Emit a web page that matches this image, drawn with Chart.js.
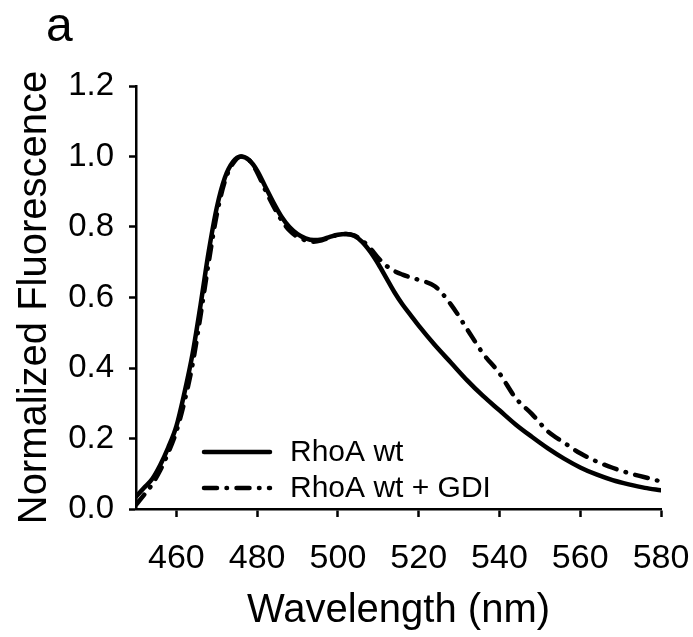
<!DOCTYPE html>
<html>
<head>
<meta charset="utf-8">
<script src="https://cdn.jsdelivr.net/npm/chart.js@4.4.0/dist/chart.umd.min.js"></script>
<style>
  body { margin: 0; background: #fff; }
  #wrap { width: 693px; height: 637px; }
</style>
</head>
<body>
<div id="wrap"><canvas id="spectrum"></canvas></div>
<script>
var wavelength = [450, 452, 454, 456, 458, 460, 462, 464, 466, 468, 470, 472, 474, 476, 478, 480,
  482, 484, 486, 488, 490, 492, 494, 496, 498, 500, 502, 504, 506, 508, 510, 512, 514, 516, 518,
  520, 524, 528, 532, 536, 540, 544, 548, 552, 556, 560, 564, 568, 572, 576, 580];

var rhoaWt = [0.035, 0.06, 0.085, 0.125, 0.175, 0.235, 0.33, 0.44, 0.58, 0.73, 0.855, 0.94, 0.985,
  1.0, 0.99, 0.96, 0.915, 0.87, 0.83, 0.80, 0.78, 0.768, 0.763, 0.765, 0.772, 0.778, 0.78, 0.775,
  0.758, 0.73, 0.695, 0.655, 0.615, 0.58, 0.55, 0.52, 0.465, 0.415, 0.365, 0.32, 0.28, 0.24, 0.205,
  0.172, 0.143, 0.118, 0.098, 0.082, 0.07, 0.06, 0.053];

var rhoaWtGdi = [0.012, 0.04, 0.07, 0.11, 0.16, 0.22, 0.305, 0.41, 0.55, 0.70, 0.835, 0.93, 0.98,
  1.0, 0.99, 0.955, 0.905, 0.86, 0.82, 0.79, 0.772, 0.762, 0.758, 0.762, 0.77, 0.778, 0.78, 0.776,
  0.762, 0.74, 0.712, 0.69, 0.675, 0.665, 0.657, 0.65, 0.632, 0.58, 0.51, 0.44, 0.385, 0.315, 0.27,
  0.22, 0.188, 0.158, 0.135, 0.117, 0.102, 0.09, 0.078];

var xTicks = [460, 480, 500, 520, 540, 560, 580];
var yTicks = [0.0, 0.2, 0.4, 0.6, 0.8, 1.0, 1.2];

var seriesNames = ['RhoA wt', 'RhoA wt + GDI'];

var FONT = '"Liberation Sans", Arial, sans-serif';
var dashDot = [13, 9.5, 0.5, 9.5];

function points(ys) {
  var out = [];
  for (var i = 0; i < wavelength.length; i++) {
    out.push({ x: wavelength[i], y: ys[i] });
  }
  return out;
}

// panel letter + legend inside the plot
var extras = {
  id: 'extras',
  afterDraw: function(chart) {
    var ctx = chart.ctx;
    ctx.save();
    ctx.fillStyle = '#000';
    ctx.font = '48px ' + FONT;
    ctx.textBaseline = 'alphabetic';
    ctx.textAlign = 'left';
    ctx.fillText('a', 46, 41);

    var rows = [452, 488];
    chart.data.datasets.forEach(function(ds, i) {
      var y = rows[i];
      ctx.beginPath();
      ctx.strokeStyle = '#000';
      ctx.lineWidth = 4.5;
      ctx.lineCap = 'round';
      ctx.setLineDash(ds.borderDash || []);
      ctx.moveTo(204, y);
      ctx.lineTo(270, y);
      ctx.stroke();
      ctx.setLineDash([]);
      ctx.font = '30px ' + FONT;
      ctx.textBaseline = 'middle';
      ctx.fillText(ds.label, 290, y + 1);
    });
    ctx.restore();
  }
};

var ctx = document.getElementById('spectrum');
var chart = new Chart(ctx, {
  type: 'line',
  data: {
    datasets: [
      {
        label: seriesNames[0],
        data: points(rhoaWt),
        borderColor: '#000',
        borderWidth: 4.5,
        pointRadius: 0,
        cubicInterpolationMode: 'monotone',
        borderCapStyle: 'round'
      },
      {
        label: seriesNames[1],
        data: points(rhoaWtGdi),
        borderColor: '#000',
        borderWidth: 4.5,
        borderDash: dashDot,
        borderCapStyle: 'round',
        pointRadius: 0,
        cubicInterpolationMode: 'monotone'
      }
    ]
  },
  options: {
    responsive: true,
    maintainAspectRatio: false,
    animation: false,
    layout: { padding: { top: 86, right: 32, left: 0, bottom: 0 } },
    plugins: {
      legend: { display: false },
      tooltip: { enabled: false }
    },
    scales: {
      x: {
        type: 'linear',
        min: 450,
        max: 580,
        afterBuildTicks: function(scale) {
          scale.ticks = xTicks.map(function(v) { return { value: v }; });
        },
        afterFit: function(scale) {
          scale.height = 128;
          scale.paddingRight = 0;
          scale.paddingLeft = 0;
        },
        grid: { drawOnChartArea: false, drawTicks: true, tickLength: 8, tickColor: '#000', tickWidth: 2.5 },
        border: { display: true, color: '#000', width: 2.5 },
        ticks: { color: '#000', font: { family: FONT, size: 34 }, padding: 21, maxRotation: 0 },
        title: { display: true, text: 'Wavelength (nm)', color: '#000', font: { family: FONT, size: 40 }, padding: { top: 0, bottom: 2 } }
      },
      y: {
        min: 0,
        max: 1.2,
        afterBuildTicks: function(scale) {
          scale.ticks = yTicks.map(function(v) { return { value: v }; });
        },
        afterFit: function(scale) { scale.width = 136; },
        grid: { drawOnChartArea: false, drawTicks: true, tickLength: 7, tickColor: '#000', tickWidth: 2.5 },
        border: { display: true, color: '#000', width: 2.5 },
        ticks: {
          color: '#000',
          font: { family: FONT, size: 33 },
          padding: 15,
          callback: function(v) { return Number(v).toFixed(1); }
        },
        title: { display: true, text: 'Normalized Fluorescence', color: '#000', font: { family: FONT, size: 40 }, padding: { top: 11, bottom: 0 } }
      }
    }
  },
  plugins: [extras]
});
</script>
</body>
</html>
